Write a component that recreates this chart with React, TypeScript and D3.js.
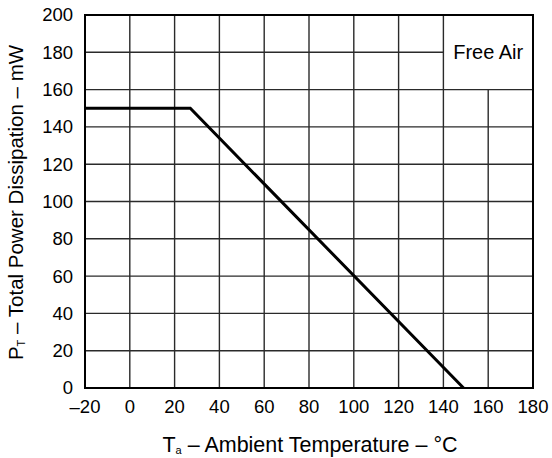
import React from 'react';
import * as d3 from 'd3';

// derating curve
const tempC = [-20, 27, 149];
const powerMW = [150, 150, 0];

const xTicks = [-20, 0, 20, 40, 60, 80, 100, 120, 140, 160, 180];
const yTicks = [0, 20, 40, 60, 80, 100, 120, 140, 160, 180, 200];

const W = 552;
const H = 458;
const margin = { left: 85, right: 19, top: 15, bottom: 70 };
const font = 'Liberation Sans, Arial, Helvetica, sans-serif';

export default function App() {
    const x = d3.scaleLinear().domain([-20, 180]).range([margin.left, W - margin.right]);
    const y = d3.scaleLinear().domain([0, 200]).range([H - margin.bottom, margin.top]);

    const line = d3.line<number>()
        .x((d, i) => x(tempC[i]))
        .y(d => y(d));

    // "Free Air" box: the grid is left out of 140..180 x 160..200
    const boxX = 140;
    const boxY = 160;

    return (
        <svg width={W} height={H} style={{ position: 'absolute', left: 0, top: 0, background: '#fff' }}>
            <g stroke="#2a2a2a" strokeWidth={1.4}>
                {xTicks.slice(1, -1).map(t => (
                    <line key={'v' + t}
                        x1={x(t)} x2={x(t)}
                        y1={t > boxX ? y(boxY) : y(200)} y2={y(0)} />
                ))}
                {yTicks.slice(1, -1).map(t => (
                    <line key={'h' + t}
                        x1={x(-20)} x2={t > boxY ? x(boxX) : x(180)}
                        y1={y(t)} y2={y(t)} />
                ))}
            </g>
            <rect x={x(-20)} y={y(200)} width={x(180) - x(-20)} height={y(0) - y(200)}
                fill="none" stroke="#000" strokeWidth={2} />

            <path d={line(powerMW) || ''} fill="none" stroke="#000" strokeWidth={3} strokeLinejoin="miter" />

            <text x={(x(boxX) + x(180)) / 2} y={y(180) + 7} textAnchor="middle"
                fontFamily={font} fontSize={20} fill="#000">Free Air</text>

            <g fontFamily={font} fontSize={18.5} fill="#000">
                {yTicks.map(t => (
                    <text key={'yl' + t} x={73} y={y(t)} dy="0.35em" textAnchor="end">{t}</text>
                ))}
                {xTicks.map(t => (
                    <text key={'xl' + t} x={x(t)} y={413} textAnchor="middle">
                        {t < 0 ? '\u2013' + Math.abs(t) : t}
                    </text>
                ))}
            </g>

            <text x={310} y={452} textAnchor="middle"
                fontFamily={font} fontSize={21.5} fill="#000">
                T<tspan fontSize={11} dy={2}>a</tspan><tspan dy={-2}> – Ambient Temperature – °C</tspan>
            </text>

            <text transform={`translate(23, ${(y(0) + y(200)) / 2 + 1}) rotate(-90)`} textAnchor="middle"
                fontFamily={font} fontSize={20.5} fill="#000">
                P<tspan fontSize={11} dy={2}>T</tspan><tspan dy={-2}> – Total Power Dissipation – mW</tspan>
            </text>
        </svg>
    );
}
